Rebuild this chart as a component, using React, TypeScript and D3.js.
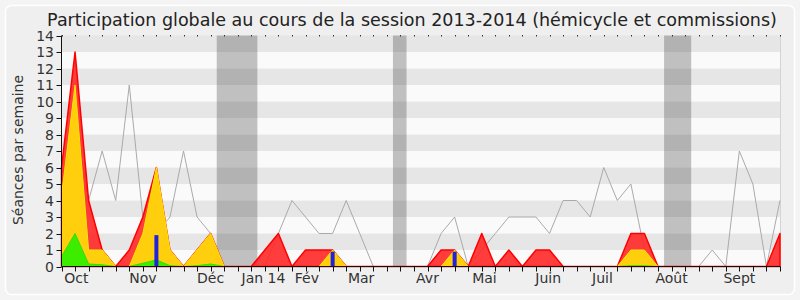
import React from "react";
import * as d3 from "d3";

// Weekly values, session 2013-2014 (week 0 = first week of October)
const weeks = d3.range(54);
const presenceTotal = [6, 13, 4, 1, 0, 1, 3, 6, 1, 0, 1, 2, 0, 0, 0, 1, 2, 0, 1, 1, 1, 0, 0, 0, 0, 0, 0, 0, 1, 1, 0, 2, 0, 1, 0, 1, 1, 0, 0, 0, 0, 0, 2, 2, 0, 0, 0, 0, 0, 0, 0, 0, 0, 2];
const presenceHemicycle = [4.3, 11, 1, 1, 0, 0, 2, 6, 1, 0, 1, 2, 0, 0, 0, 0, 0, 0, 0, 0, 1, 0, 0, 0, 0, 0, 0, 0, 0, 1, 0, 0, 0, 0, 0, 0, 0, 0, 0, 0, 0, 0, 1, 1, 0, 0, 0, 0, 0, 0, 0, 0, 0, 0];
const interventions = [0.6, 2, 0.15, 0.1, 0, 0, 0.2, 0.4, 0.05, 0, 0.05, 0.15, 0, 0, 0, 0, 0, 0, 0, 0, 0, 0, 0, 0, 0, 0, 0, 0, 0, 0, 0, 0, 0, 0, 0, 0, 0, 0, 0, 0, 0, 0, 0.05, 0.05, 0, 0, 0, 0, 0, 0, 0, 0, 0, 0];
const questions = [0, 0, 0, 0, 0, 0, 0, 1.9, 0, 0, 0, 0, 0, 0, 0, 0, 0, 0, 0, 0, 0.9, 0, 0, 0, 0, 0, 0, 0, 0, 0.9, 0, 0, 0, 0, 0, 0, 0, 0, 0, 0, 0, 0, 0, 0, 0, 0, 0, 0, 0, 0, 0, 0, 0, 0];
const median = [5, 9, 4, 7, 4, 11, 3, 2, 3, 7, 3, 2, 0, 0, 0, 0, 2, 4, 3, 2, 2, 4, 2, 0, 0, 0, 0, 0, 2, 3, 0, 1, 2, 3, 3, 3, 2, 4, 4, 3, 6, 4, 5, 1, 0, 0, 0, 0, 1, 0, 7, 5, 0, 4];
const vacationWeeks = [[12, 14], [25, 25], [45, 46]];
const monthLabels = ["Oct", "Nov", "Déc", "Jan 14", "Fév", "Mar", "Avr", "Mai", "Juin", "Juil", "Août", "Sept"];
const monthWeeks = [1.1, 6, 11, 14.9, 18.1, 22.1, 27, 31.2, 35.9, 39.9, 45, 50];
const yTicks = d3.range(0, 15);

const FONT = "DejaVu Sans";

export default function App() {
  const x = d3.scaleLinear().domain([0, 53]).range([61.5, 780]);
  const y = d3.scaleLinear().domain([0, 14]).range([266.5, 35.5]);

  const area = (vals: number[]) =>
    d3.area<number>().x((_, i) => x(i)).y0(y(0)).y1((d) => y(d))(vals) || "";
  const line = (vals: number[]) =>
    d3.line<number>().x((_, i) => x(i)).y((d) => y(d))(vals) || "";

  return (
    <svg width={800} height={300} style={{ position: "absolute", left: 0, top: 0 }} fontFamily={FONT}>
      <rect x={0} y={0} width={800} height={300} fill="#f4f4f4" />
      <rect x={5.5} y={5.5} width={789} height={289} rx={6} fill="#efefef" stroke="#ffffff" strokeWidth={1.5} />
      <text x={412} y={26} textAnchor="middle" fontSize={17.5} fill="#222">
        Participation globale au cours de la session 2013-2014 (hémicycle et commissions)
      </text>

      {/* stripes */}
      {d3.range(0, 14).map((k) => (
        <rect key={"s" + k} x={x(0)} y={y(k + 1)} width={x(53) - x(0)} height={y(k) - y(k + 1)} fill={k % 2 === 1 ? "#e6e6e6" : "#fafafa"} />
      ))}
      <line x1={780.5} x2={780.5} y1={y(14)} y2={y(0)} stroke="#d4d4d4" />

      {/* vacations */}
      {vacationWeeks.map(([a, b], k) => (
        <rect key={"v" + k} x={x(a - 0.55)} y={y(14)} width={x(b + 0.45) - x(a - 0.55)} height={y(0) - y(14)} fill="rgb(60,60,60)" fillOpacity={0.3} />
      ))}

      {/* median line */}
      <path d={line(median)} fill="none" stroke="#aaaaaa" strokeWidth={1} />

      {/* areas */}
      <path d={area(presenceTotal)} fill="#ff2828" fillOpacity={0.9} stroke="#ff0000" strokeWidth={1.5} strokeLinejoin="round" />
      <path d={area(presenceHemicycle)} fill="#ffd30a" fillOpacity={0.97} stroke="#ffe600" strokeWidth={1} strokeLinejoin="round" />
      <path d={area(interventions)} fill="#33ee00" fillOpacity={0.95} stroke="#33dd00" strokeWidth={1} />

      {/* questions bars */}
      {weeks.filter((i) => questions[i] > 0).map((i) => (
        <rect key={"q" + i} x={x(i) - 2} y={y(questions[i])} width={4} height={y(0) - y(questions[i])} fill="#2222dd" />
      ))}

      {/* axes */}
      <line x1={61.5} x2={61.5} y1={y(14)} y2={y(0)} stroke="#111" />
      <line x1={61.5} x2={780} y1={y(0)} y2={y(0)} stroke="#111" />
      {yTicks.map((t) => (
        <g key={"yt" + t}>
          <line x1={56.5} x2={61.5} y1={Math.round(y(t)) + 0.5} y2={Math.round(y(t)) + 0.5} stroke="#111" />
          <text x={54} y={y(t)} dy="0.36em" textAnchor="end" fontSize={14} fill="#333">{t}</text>
        </g>
      ))}
      {weeks.map((i) => (
        <g key={"xt" + i}>
          <line x1={Math.round(x(i)) + 0.5} x2={Math.round(x(i)) + 0.5} y1={y(0)} y2={y(0) + 5} stroke="#111" />
          <rect x={Math.round(x(i))} y={35} width={1} height={1.5} fill="#333" />
        </g>
      ))}
      {monthLabels.map((m, k) => (
        <text key={"m" + k} x={x(monthWeeks[k])} y={283} textAnchor="middle" fontSize={14} fill="#333">{m}</text>
      ))}
      <text transform="translate(18,150) rotate(-90)" textAnchor="middle" dy="0.36em" fontSize={14} fill="#333">
        Séances par semaine
      </text>
    </svg>
  );
}
